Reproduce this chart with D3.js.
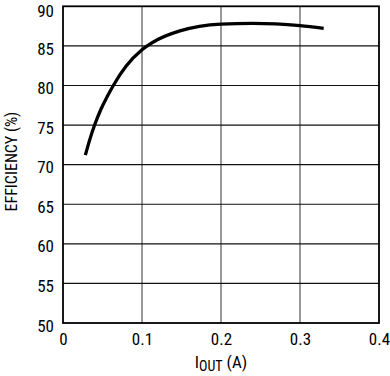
<!DOCTYPE html>
<html><head><meta charset="utf-8">
<script src="https://cdn.jsdelivr.net/npm/d3@7"></script>
<style>body{margin:0;background:#fff}svg{display:block}</style>
</head><body><svg id="c" width="390" height="376"></svg>
<script>
const iout = [0.0283, 0.0337, 0.040, 0.048, 0.056, 0.0637, 0.080, 0.100, 0.120, 0.148, 0.200, 0.240, 0.300, 0.330];
const efficiency = [71.2, 73.1, 75.0, 77.0, 78.6, 80.0, 82.45, 84.5, 85.8, 86.9, 87.76, 87.85, 87.55, 87.2];
const xTicks = [0, 0.1, 0.2, 0.3, 0.4];
const yTicks = [50, 55, 60, 65, 70, 75, 80, 85, 90];

const svg = d3.select("#c");
const L = 63, R = 379, T = 6.3, B = 323;
const x = d3.scaleLinear().domain([0, 0.4]).range([L, R]);
const y = d3.scaleLinear().domain([50, 90]).range([B, T]);
const font = "'Liberation Sans Narrow','Roboto Condensed','Arial Narrow',sans-serif";

// grid
svg.append("g").selectAll("line").data(xTicks.slice(1, -1)).join("line")
  .attr("x1", d => x(d)).attr("x2", d => x(d)).attr("y1", T).attr("y2", B)
  .attr("stroke", "#333").attr("stroke-width", 1);
svg.append("g").selectAll("line").data(yTicks.slice(1, -1)).join("line")
  .attr("x1", L).attr("x2", R).attr("y1", d => y(d)).attr("y2", d => y(d))
  .attr("stroke", "#111").attr("stroke-width", 1.2);
svg.append("rect").attr("x", L).attr("y", T).attr("width", R - L).attr("height", B - T)
  .attr("fill", "none").attr("stroke", "#000").attr("stroke-width", 1.8);

// axes labels
const xa = d3.axisBottom(x).tickValues(xTicks).tickSize(0).tickPadding(10).tickFormat(d => d === 0 ? "0" : d3.format(".1f")(d));
const gx = svg.append("g").attr("transform", `translate(0,${B})`).call(xa);
gx.select(".domain").remove();
gx.selectAll("text").attr("font-family", font).attr("font-size", 17).attr("fill", "#000").attr("dy", "0.71em");

const ya = d3.axisLeft(y).tickValues(yTicks).tickSize(0).tickPadding(9);
const gy = svg.append("g").attr("transform", `translate(${L},0)`).call(ya);
gy.select(".domain").remove();
gy.selectAll("text").attr("font-family", font).attr("font-size", 17).attr("fill", "#000")
  .attr("dy", d => d === 90 ? "0.62em" : "0.48em");

// curve
const line = d3.line().x((d, i) => x(iout[i])).y(d => y(d)).curve(d3.curveMonotoneX);
svg.append("path").datum(efficiency).attr("d", line)
  .attr("fill", "none").attr("stroke", "#000").attr("stroke-width", 3.3).attr("stroke-linecap", "butt");

// titles
const xt = svg.append("text").attr("x", 221).attr("y", 368).attr("text-anchor", "middle")
  .attr("font-family", font).attr("font-size", 17).attr("fill", "#000");
xt.append("tspan").text("I");
xt.append("tspan").attr("font-size", 14).attr("dy", 3).text("OUT");
xt.append("tspan").attr("dy", -3).text(" (A)");

svg.append("text").attr("transform", `translate(17,${(T + B) / 2 - 3}) rotate(-90)`)
  .attr("text-anchor", "middle").attr("font-family", font).attr("font-size", 16).attr("fill", "#000")
  .text("EFFICIENCY (%)");
</script></body></html>
